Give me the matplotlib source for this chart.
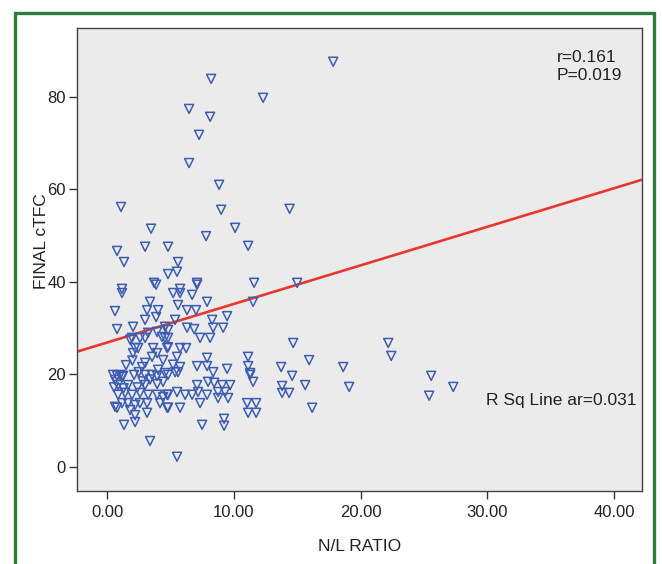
import matplotlib
matplotlib.use("Agg")
import matplotlib.pyplot as plt
from matplotlib.patches import Rectangle
import numpy as np

plt.rcParams['font.family'] = ['Liberation Sans', 'DejaVu Sans']

# N/L ratio values
nl_ratio = [
    17.84, 8.21, 12.31, 6.47, 8.13, 7.26, 6.47, 8.84, 1.10, 9.00, 14.40, 10.10, 3.47, 7.81,
    11.13, 3.00, 4.81, 0.79, 1.34, 4.81, 5.52, 3.71, 7.10, 11.60, 1.18, 5.76, 5.60, 15.00,
    11.52,
    1.18, 3.87, 0.63, 3.39, 3.16, 4.03, 3.87, 3.00, 0.79, 2.05, 4.58, 3.24, 3.95, 4.34,
    1.97, 2.60, 3.00, 4.58, 2.21, 2.45, 3.63, 4.74, 2.05, 3.95, 3.55, 4.42, 2.76, 4.03,
    5.21, 5.76, 6.71, 7.10, 5.60, 7.89, 6.31, 7.02, 9.47, 5.37, 8.29, 6.31, 6.87, 8.37,
    9.16, 4.81, 7.34, 8.13, 4.81, 4.81, 5.76, 6.24, 5.52, 7.89, 11.13, 5.21, 5.76, 7.10,
    7.89, 9.47, 11.13, 5.37, 8.37, 11.29, 1.82,
    14.68, 22.18, 22.42, 15.94, 13.73, 18.63, 14.60, 25.57, 13.81, 15.63, 19.10, 27.31,
    13.81, 14.36, 25.41, 16.18,
    11.29, 11.52, 11.05, 11.76, 11.13, 11.76,
    4.81, 5.60, 7.10, 7.97, 8.45, 9.08, 9.71, 4.81, 5.52, 6.16, 6.71, 7.18, 7.89, 8.76,
    9.31, 8.76, 9.55, 7.34, 4.81, 5.76, 7.50, 9.23, 9.23, 5.52,
    0.47, 0.79, 1.03, 1.26, 2.13, 3.00, 3.55, 3.95, 4.58, 0.63, 1.18, 3.39,
    0.87, 1.66, 3.00, 3.95, 4.42, 0.87, 1.42, 1.97, 2.60, 3.24, 3.95, 4.42, 4.74, 0.79,
    1.18, 1.66, 2.21, 2.60, 3.16, 4.18, 4.74, 1.82, 2.21, 3.16, 1.34, 2.21, 3.39,
    0.63, 0.55, 1.30, 2.40, 2.80, 1.50, 2.00, 3.00, 2.50,
]

# FINAL cTFC values
final_ctfc = [
    87.6, 83.9, 79.8, 77.4, 75.7, 71.8, 65.7, 61.0, 56.2, 55.6, 55.8, 51.7, 51.5, 49.9,
    47.8, 47.6, 47.6, 46.7, 44.3, 41.7, 42.2, 39.8, 39.8, 39.8, 38.5, 38.5, 44.3, 39.8,
    35.7,
    37.6, 39.4, 33.7, 35.7, 33.9, 33.9, 32.4, 31.8, 29.8, 30.3, 30.3, 29.0, 29.2, 28.1,
    27.9, 27.9, 27.9, 27.9, 25.7, 25.7, 25.7, 25.7, 24.6, 24.6, 23.8, 23.1, 21.6, 21.0,
    37.6, 37.6, 37.2, 39.4, 35.0, 35.7, 33.9, 33.9, 32.6, 31.8, 31.8, 30.1, 29.8, 30.1,
    30.1, 29.6, 27.9, 27.9, 27.9, 25.9, 25.7, 25.7, 23.8, 23.6, 23.8, 22.1, 21.6, 21.8,
    21.8, 21.2, 21.8, 20.5, 20.5, 20.3, 27.5,
    26.8, 26.8, 24.0, 23.1, 21.6, 21.6, 19.7, 19.7, 17.5, 17.7, 17.3, 17.3,
    16.0, 16.0, 15.4, 12.8,
    19.9, 18.4, 13.8, 13.8, 11.7, 11.7,
    19.9, 20.5, 17.7, 18.4, 18.2, 17.7, 17.7, 15.6, 16.2, 15.6, 15.6, 16.2, 15.6, 16.2,
    16.2, 14.9, 14.9, 13.8, 12.8, 12.8, 9.1, 10.4, 8.9, 2.2,
    19.9, 19.7, 19.9, 19.7, 19.9, 19.9, 19.9, 19.7, 20.3, 18.8, 19.5, 18.9,
    17.7, 17.7, 17.7, 17.9, 18.4, 15.6, 16.0, 15.6, 16.0, 15.6, 15.6, 15.1, 15.6, 12.8,
    13.8, 13.8, 13.4, 13.8, 13.8, 13.8, 12.8, 12.3, 11.2, 11.7, 9.1, 9.7, 5.6,
    13.0, 17.2, 17.0, 17.2, 18.5, 22.0, 23.0, 22.5, 20.5,
]

# Linear fit line
fit_intercept = 26.9
fit_slope = 0.834

x_ticks = [0, 10, 20, 30, 40]
x_tick_labels = ["0.00", "10.00", "20.00", "30.00", "40.00"]
y_ticks = [0, 20, 40, 60, 80]

W, H = 662, 564
fig = plt.figure(figsize=(W / 100, H / 100), dpi=100)
fig.patch.set_facecolor('white')

# green frame around the figure
fig.patches.append(Rectangle((15 / W, -0.05), (654 - 15) / W, 1.05 - 13 / H,
                             transform=fig.transFigure, fill=False,
                             edgecolor='#2f7d3b', linewidth=2.4, clip_on=False))

ax = fig.add_axes([77 / W, 1 - 491 / H, (642 - 77) / W, (491 - 28) / H])
ax.set_facecolor('#ebebeb')

xlim = (-2.37, 42.2)
ax.set_xlim(*xlim)
ax.set_ylim(-5.2, 94.9)

ax.scatter(nl_ratio, final_ctfc, marker='v', s=42, facecolors='none',
           edgecolors='#3d5db3', linewidths=1.1, zorder=3)

xs = np.array(xlim)
ax.plot(xs, fit_intercept + fit_slope * xs, color='#e8372f', linewidth=1.9, zorder=2)

ax.set_xticks(x_ticks)
ax.set_xticklabels(x_tick_labels)
ax.set_yticks(y_ticks)
ax.tick_params(axis='both', labelsize=12, length=6, width=1, color='#333333',
               labelcolor='#222222')
ax.tick_params(axis='x', pad=4)
ax.tick_params(axis='y', pad=2)

for sp in ax.spines.values():
    sp.set_color('#444444')
    sp.set_linewidth(1.0)

ax.set_xlabel('N/L RATIO', fontsize=12.5, color='#222222', labelpad=14)
ax.set_ylabel('FINAL cTFC', fontsize=12.5, color='#222222', labelpad=4)
ax.yaxis.set_label_coords(-0.05, 0.54)

ax.text(0.849, 0.952, 'r=0.161\nP=0.019', transform=ax.transAxes, fontsize=12.5,
        color='#222222', va='top', ha='left', linespacing=1.2)
ax.text(0.99, 0.195, 'R Sq Line ar=0.031', transform=ax.transAxes, fontsize=12.5,
        color='#222222', va='center', ha='right')

fig.savefig('out.png', dpi=100)
